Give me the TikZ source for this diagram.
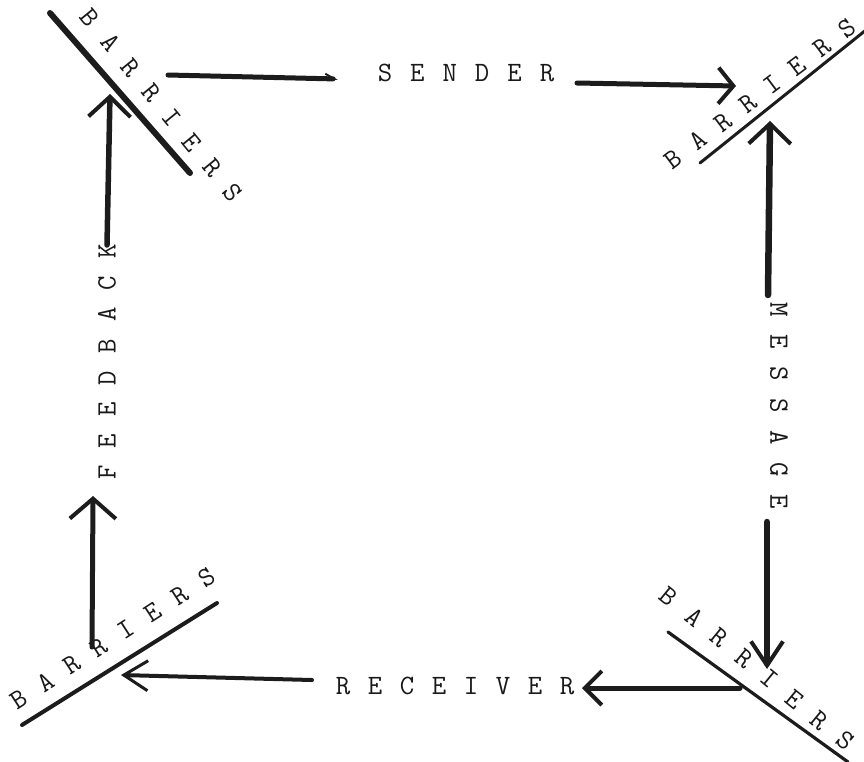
\documentclass[tikz,border=0pt]{standalone}
\usetikzlibrary{arrows.meta}
\definecolor{ink}{RGB}{28,28,28}
\definecolor{txt}{RGB}{25,25,25}
\newlength\pitch
\newcommand\ltr[1]{\makebox[\pitch][c]{#1}}
\begin{document}
\begin{tikzpicture}[x=1pt,y=-1pt,
  lbl/.style={inner sep=0pt,outer sep=0pt,font=\ttfamily\fontsize{28}{28}\selectfont,text=txt},
  shaft/.style={draw=ink,line width=5pt,line cap=round},
  barrier/.style={draw=ink,line cap=round},
]
\useasboundingbox (0,0) rectangle (864,761);
% texts
\node[lbl] (sender) at (466,73) {\setlength\pitch{32.4pt}\ltr S\ltr E\ltr N\ltr D\ltr E\ltr R};
\node[lbl] (receiver) at (455,686) {\setlength\pitch{32pt}\ltr R\ltr E\ltr C\ltr E\ltr I\ltr V\ltr E\ltr R};
\node[lbl,rotate=90] (feedback) at (107,362) {\setlength\pitch{31.6pt}\ltr F\ltr E\ltr E\ltr D\ltr B\ltr A\ltr C\ltr K};
\node[lbl,rotate=-90] (message) at (779,406) {\setlength\pitch{32pt}\ltr M\ltr E\ltr S\ltr S\ltr A\ltr G\ltr E};
\node[lbl,rotate=-50.7] (btl) at (161.5,105.5) {\setlength\pitch{32.3pt}\ltr B\ltr A\ltr R\ltr R\ltr I\ltr E\ltr R\ltr S};
\node[lbl,rotate=37] (btr) at (760,94) {\setlength\pitch{31pt}\ltr B\ltr A\ltr R\ltr R\ltr I\ltr E\ltr R\ltr S};
\node[lbl,rotate=-39.3] (bbr) at (757,668.5) {\setlength\pitch{32.5pt}\ltr B\ltr A\ltr R\ltr R\ltr I\ltr E\ltr R\ltr S};
\node[lbl,rotate=33] (bbl) at (112.5,638.5) {\setlength\pitch{32pt}\ltr B\ltr A\ltr R\ltr R\ltr I\ltr E\ltr R\ltr S};
% barrier lines
\coordinate (tl1) at (50,13);   \coordinate (tl2) at (190,173);
\coordinate (tr1) at (700,163); \coordinate (tr2) at (866,30);
\coordinate (br1) at (668,632); \coordinate (br2) at (848,762);
\coordinate (bl1) at (22,725);  \coordinate (bl2) at (217,603);
\draw[barrier,line width=6pt] (tl1) -- (tl2);
\draw[barrier,line width=3pt] (tr1) -- (tr2);
\draw[barrier,line width=3.2pt] (br1) -- (br2);
\draw[barrier,line width=4pt] (bl1) -- (bl2);
% arrow end points
\coordinate (a1s) at (168,75);  \coordinate (a1e) at (338,79);
\coordinate (a2s) at (577,83);  \coordinate (a2e) at (736,86);
\coordinate (a3s) at (768,295); \coordinate (a3e) at (770,121);
\coordinate (a4s) at (767,522); \coordinate (a4e) at (767,669);
\coordinate (a5s) at (740,688); \coordinate (a5e) at (582,688);
\coordinate (a6s) at (312,680); \coordinate (a6e) at (121,675);
\coordinate (a7s) at (92,647);  \coordinate (a7e) at (93,496);
\coordinate (a8s) at (107,245); \coordinate (a8e) at (110,94);
% arrows
\draw[shaft,-{Straight Barb[harpoon,length=9pt,width=10pt,line width=2pt]}] (a1s) -- (a1e);
\draw[shaft,-{Straight Barb[length=15pt,width=36pt,line width=4pt]}] (a2s) -- (a2e);
\draw[shaft,line width=6.5pt,-{Straight Barb[length=20pt,width=42pt,line width=4pt]}] (a3s) -- (a3e);
\draw[shaft,line width=6.5pt,-{Straight Barb[length=24pt,width=32pt,line width=4pt]}] (a4s) -- (a4e);
\draw[shaft,-{Straight Barb[length=17pt,width=34pt,line width=4pt]}] (a5s) -- (a5e);
\draw[shaft,line width=4pt,-{Straight Barb[length=24pt,width=30pt,line width=3pt]}] (a6s) -- (a6e);
\draw[shaft,-{Straight Barb[length=20pt,width=46pt,line width=4pt]}] (a7s) -- (a7e);
\draw[shaft,line width=5.5pt,-{Straight Barb[length=20pt,width=42pt,line width=4pt]}] (a8s) -- (a8e);
\end{tikzpicture}
\end{document}
